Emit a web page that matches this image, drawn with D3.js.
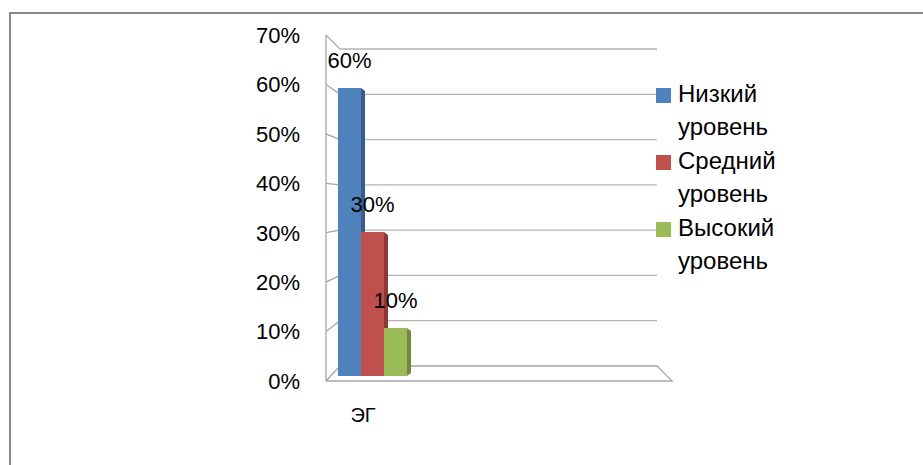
<!DOCTYPE html>
<html>
<head>
<meta charset="utf-8">
<script src="https://cdn.jsdelivr.net/npm/d3@7"></script>
<style>
  body { margin: 0; background: #fff; }
  svg text { font-family: "Liberation Sans", Arial, sans-serif; fill: #000; }
</style>
</head>
<body>
<div id="chart"></div>
<script>
const categories = ["ЭГ"];
const series = ["Низкий уровень", "Средний уровень", "Высокий уровень"];
const legendLines = [["Низкий", "уровень"], ["Средний", "уровень"], ["Высокий", "уровень"]];
const values = [0.6, 0.3, 0.1];           // one value per series for "ЭГ"
const dataLabels = ["60%", "30%", "10%"];
const yTicks = [0, 0.1, 0.2, 0.3, 0.4, 0.5, 0.6, 0.7];

const colors = ["#4F81BD", "#C0504D", "#9BBB59"];
const sideColors = ["#385D8A", "#8C3836", "#71893F"];

const W = 923, H = 465;
const DX = 14, DY = -15;                  // 3D depth offset
const frontL = 326, frontR = 672, frontB = 381, frontT = 35;

const svg = d3.select("#chart").append("svg")
  .attr("width", W).attr("height", H);

// outer frame
svg.append("rect")
  .attr("x", 10).attr("y", 13)
  .attr("width", W).attr("height", H)
  .attr("fill", "none").attr("stroke", "#868686").attr("stroke-width", 2);

const yFront = d3.scaleLinear().domain([0, 0.7]).range([frontB, frontT]);
const yBack  = d3.scaleLinear().domain([0, 0.7]).range([frontB + DY, 49]);
const yBar   = d3.scaleLinear().domain([0, 0.7]).range([376, 40]);

const x0 = d3.scaleBand().domain(categories).range([frontL, frontL + 86]);
const x1 = d3.scaleBand().domain(series).range([12, 12 + 69]);

const grid = svg.append("g");

// back wall gridlines + side wall diagonals
yTicks.forEach(t => {
  if (t > 0) {
    grid.append("line")
      .attr("x1", frontL + DX).attr("x2", 657)
      .attr("y1", yBack(t)).attr("y2", yBack(t))
      .attr("stroke", "#b3b3b3").attr("stroke-width", 1.3);
  }
  grid.append("line")
    .attr("x1", frontL).attr("y1", yFront(t))
    .attr("x2", frontL + DX).attr("y2", yBack(t))
    .attr("stroke", "#a6a6a6").attr("stroke-width", 1.3);
});

// floor
grid.append("path")
  .attr("d", `M${frontL + DX},${yBack(0)} L657,${yBack(0)} L${frontR},${frontB} L${frontL},${frontB}`)
  .attr("fill", "none").attr("stroke", "#a6a6a6").attr("stroke-width", 1.3);

// front vertical axis
grid.append("line")
  .attr("x1", frontL).attr("x2", frontL)
  .attr("y1", yFront(0.7)).attr("y2", frontB)
  .attr("stroke", "#a6a6a6").attr("stroke-width", 1.3);

// y tick labels
svg.append("g").selectAll("text")
  .data(yTicks).join("text")
  .attr("x", 300).attr("y", d => yFront(d))
  .attr("dy", "0.36em")
  .attr("text-anchor", "end")
  .attr("font-size", 22)
  .text(d => d3.format(".0%")(d));

// bars
const bars = svg.append("g");
categories.forEach(cat => {
  series.forEach((s, i) => {
    const x = x0(cat) + x1(s);
    const w = x1.bandwidth();
    const top = yBar(values[i]);
    const base = yBar(0);
    bars.append("path")
      .attr("d", `M${x + w},${top} L${x + w + 4},${top + 3} L${x + w + 4},${base - 3} L${x + w},${base} Z`)
      .attr("fill", sideColors[i]);
    bars.append("rect")
      .attr("x", x).attr("y", top)
      .attr("width", w).attr("height", base - top)
      .attr("fill", colors[i]);
  });
});

// data labels
svg.append("g").selectAll("text")
  .data(series).join("text")
  .attr("x", s => x0(categories[0]) + x1(s) + x1.bandwidth() / 2)
  .attr("y", (s, i) => yBar(values[i]) - 20)
  .attr("text-anchor", "middle")
  .attr("font-size", 22)
  .text((s, i) => dataLabels[i]);

// category label
svg.append("g").selectAll("text")
  .data(categories).join("text")
  .attr("x", d => x0(d) + 37)
  .attr("y", 422)
  .attr("text-anchor", "middle")
  .attr("font-size", 20)
  .text(d => d);

// legend
const legend = svg.append("g");
legendLines.forEach((lines, i) => {
  const y = 102 + i * 67;
  legend.append("rect")
    .attr("x", 656).attr("y", y - 14)
    .attr("width", 15).attr("height", 15)
    .attr("fill", colors[i]);
  lines.forEach((ln, j) => {
    legend.append("text")
      .attr("x", 678).attr("y", y + j * 33)
      .attr("font-size", 24)
      .text(ln);
  });
});
</script>
</body>
</html>
